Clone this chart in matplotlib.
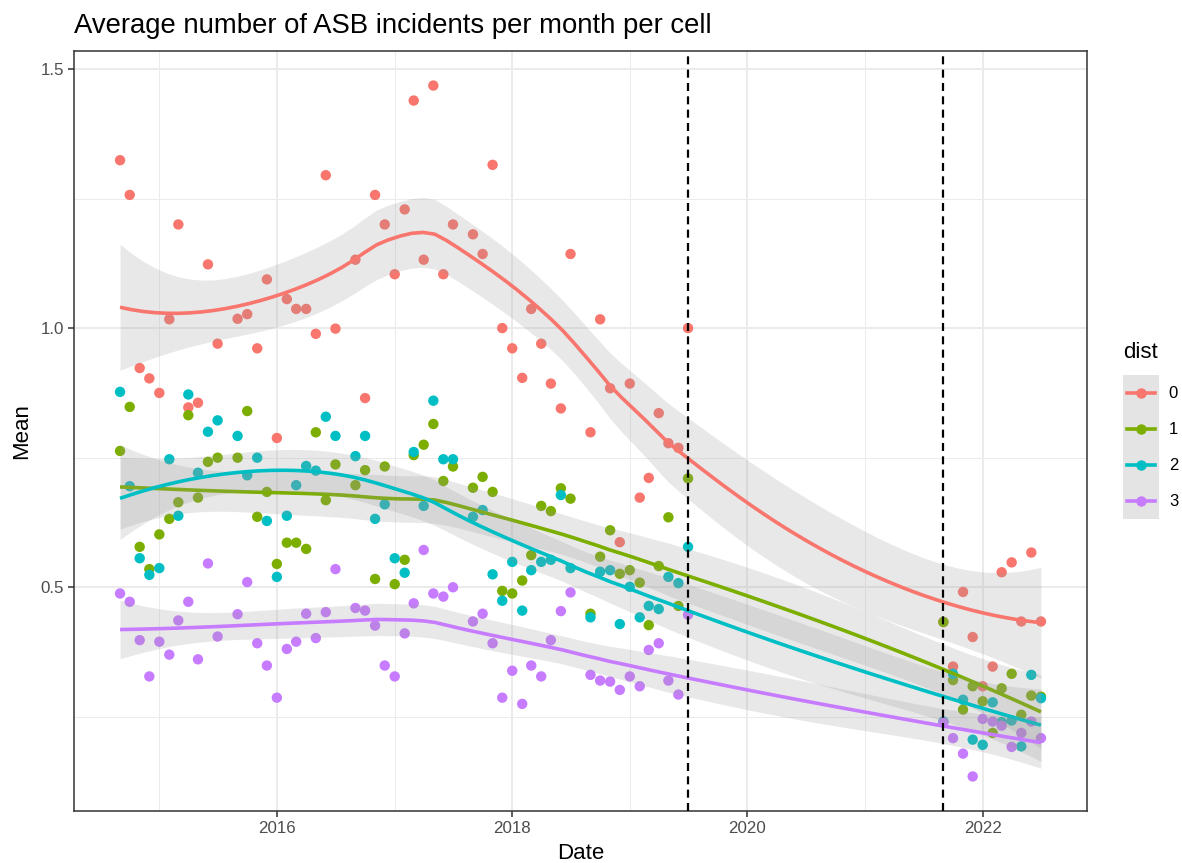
import numpy as np
import pandas as pd
import matplotlib
matplotlib.use('Agg')
import matplotlib.pyplot as plt
import matplotlib.dates as mdates
from matplotlib.lines import Line2D
from matplotlib.patches import Rectangle
from matplotlib.legend_handler import HandlerBase

plt.rcParams['font.family'] = ['Liberation Sans', 'DejaVu Sans']

# monthly dates (no August records), then the 2021-22 block after the gap
pre = pd.date_range('2014-09-01', '2019-07-01', freq='MS')
pre = pre[pre.month != 8]
post = pd.date_range('2021-09-01', '2022-07-01', freq='MS')
dates = pre.append(post)

dist_levels = ['0', '1', '2', '3']
colors = ['#F8766D', '#7CAE00', '#00BFC4', '#C77CFF']

mean_d0 = [1.324, 1.257, 0.923, 0.903, 0.875, 1.017, 1.200, 0.847, 0.856, 1.123, 0.970,
           1.018, 1.027, 0.961, 1.094, 0.788, 1.056, 1.037, 1.037, 0.989, 1.295, 0.999,
           1.132, 0.865, 1.257, 1.200, 1.104, 1.229, 1.439, 1.132, 1.468, 1.104, 1.200,
           1.181, 1.143, 1.315, 1.000, 0.961, 0.904, 1.037, 0.970, 0.893, 0.845, 1.143,
           0.799, 1.017, 0.884, 0.587, 0.893, 0.673, 0.711, 0.836, 0.778, 0.769, 1.000,
           0.433, 0.347, 0.491, 0.404, 0.309, 0.347, 0.529, 0.548, 0.434, 0.567, 0.434]
mean_d1 = [0.763, 0.848, 0.578, 0.535, 0.602, 0.632, 0.664, 0.832, 0.673, 0.742, 0.750,
           0.750, 0.840, 0.636, 0.684, 0.545, 0.586, 0.586, 0.574, 0.799, 0.668, 0.737,
           0.697, 0.726, 0.516, 0.733, 0.506, 0.553, 0.755, 0.775, 0.815, 0.705, 0.733,
           0.692, 0.713, 0.684, 0.493, 0.488, 0.513, 0.562, 0.657, 0.647, 0.691, 0.671,
           0.449, 0.559, 0.610, 0.526, 0.533, 0.509, 0.427, 0.541, 0.635, 0.464, 0.710,
           0.433, 0.321, 0.264, 0.309, 0.280, 0.219, 0.305, 0.333, 0.254, 0.291, 0.289]
mean_d2 = [0.877, 0.695, 0.556, 0.524, 0.537, 0.747, 0.638, 0.872, 0.721, 0.800, 0.822,
           0.792, 0.716, 0.750, 0.628, 0.520, 0.638, 0.697, 0.734, 0.725, 0.829, 0.792,
           0.753, 0.792, 0.632, 0.660, 0.556, 0.528, 0.761, 0.657, 0.860, 0.747, 0.747,
           0.636, 0.649, 0.525, 0.474, 0.549, 0.455, 0.533, 0.549, 0.553, 0.678, 0.537,
           0.442, 0.530, 0.533, 0.429, 0.501, 0.442, 0.464, 0.458, 0.520, 0.508, 0.578,
           0.241, 0.333, 0.283, 0.206, 0.196, 0.278, 0.240, 0.243, 0.193, 0.331, 0.286]
mean_d3 = [0.488, 0.472, 0.398, 0.328, 0.395, 0.370, 0.436, 0.472, 0.361, 0.546, 0.405,
           0.448, 0.510, 0.392, 0.349, 0.287, 0.381, 0.395, 0.449, 0.402, 0.452, 0.535,
           0.460, 0.455, 0.426, 0.349, 0.328, 0.411, 0.469, 0.572, 0.488, 0.482, 0.500,
           0.434, 0.449, 0.392, 0.287, 0.339, 0.275, 0.349, 0.328, 0.398, 0.454, 0.490,
           0.331, 0.320, 0.318, 0.302, 0.328, 0.309, 0.379, 0.392, 0.320, 0.293, 0.447,
           0.239, 0.209, 0.179, 0.135, 0.246, 0.241, 0.233, 0.192, 0.219, 0.241, 0.209]
series = [mean_d0, mean_d1, mean_d2, mean_d3]


def t975(df):
    # Cornish-Fisher approximation to the 97.5% t quantile
    z = 1.959964
    return z + (z**3 + z) / (4 * df) + (5 * z**5 + 16 * z**3 + 3 * z) / (96 * df**2)


def loess(x, y, xs, span=0.75):
    """Local quadratic fit with tricube weights, plus 95% band."""
    n = len(x)
    q = int(np.floor(n * span))

    def row(x0):
        d = np.abs(x - x0)
        h = np.sort(d)[q - 1]
        w = np.clip(1 - (d / h) ** 3, 0, None) ** 3
        X = np.column_stack([np.ones(n), x - x0, (x - x0) ** 2])
        W = X.T * w
        return np.linalg.solve(W @ X, W)[0]

    L = np.array([row(v) for v in x])
    res = y - L @ y
    M = (np.eye(n) - L).T @ (np.eye(n) - L)
    d1, d2 = np.trace(M), np.trace(M @ M)
    s = np.sqrt(np.sum(res ** 2) / d1)
    Ls = np.array([row(v) for v in xs])
    fit = Ls @ y
    se = s * np.sqrt(np.sum(Ls ** 2, axis=1))
    t = t975(d1 ** 2 / d2)
    return fit, fit - t * se, fit + t * se


class SmoothKey(HandlerBase):
    # grey ribbon square with the coloured line and point centred on it
    def create_artists(self, legend, orig_handle, xdescent, ydescent,
                       width, height, fontsize, trans):
        rect = Rectangle((-xdescent, -ydescent), width, height,
                         facecolor='#E4E4E4', edgecolor='none', transform=trans)
        yc = -ydescent + height / 2
        x0 = -xdescent
        line = Line2D([x0 + 0.12 * width, x0 + 0.5 * width, x0 + 0.88 * width], [yc] * 3,
                      color=orig_handle.get_color(), lw=2.6, marker='o', markevery=[1],
                      markersize=7.5, markeredgewidth=0, transform=trans)
        return [rect, line]


xd = mdates.date2num(dates)
xy = (xd - xd.min()) / 365.25
grid = np.linspace(xy.min(), xy.max(), 80)
grid_d = xd.min() + grid * 365.25

fig = plt.figure(figsize=(11.82, 8.63), dpi=100)
ax = fig.add_axes([74 / 1182, 1 - 811 / 863, (1087 - 74) / 1182, (811 - 51) / 863])

for vals, col in zip(series, colors):
    ax.scatter(xd, vals, s=56, color=col, edgecolors='none', zorder=3)

lows, highs = [], []
for vals, col in zip(series, colors):
    fit, lo, hi = loess(xy, np.array(vals), grid)
    lows.append(lo.min()); highs.append(hi.max())
    ax.fill_between(grid_d, lo, hi, color='#999999', alpha=0.22, lw=0, zorder=4)
    ax.plot(grid_d, fit, color=col, lw=2.6, zorder=4, solid_capstyle='butt')

for d in [pre[-1], post[0]]:
    ax.axvline(mdates.date2num(d), color='black', lw=1.6,
               linestyle=(0, (3.6, 2.4)), zorder=5)

# ggplot-style 5% expansion
allv = np.concatenate([np.array(s) for s in series])
ylo = min(allv.min(), min(lows)); yhi = max(allv.max(), max(highs))
ax.set_ylim(ylo - 0.05 * (yhi - ylo), yhi + 0.05 * (yhi - ylo))
xr = xd.max() - xd.min()
ax.set_xlim(xd.min() - 0.05 * xr, xd.max() + 0.05 * xr)

ax.set_yticks([0.5, 1.0, 1.5])
ax.set_yticklabels(['0.5', '1.0', '1.5'])
ax.set_yticks([0.25, 0.75, 1.25], minor=True)
years = [2016, 2018, 2020, 2022]
ax.set_xticks([mdates.date2num(pd.Timestamp(f'{y}-01-01')) for y in years])
ax.set_xticklabels([str(y) for y in years])
ax.set_xticks([mdates.date2num(pd.Timestamp(f'{y}-01-01')) for y in [2015, 2017, 2019, 2021]],
              minor=True)

ax.grid(which='major', color='#EBEBEB', lw=1.4, zorder=0)
ax.grid(which='minor', color='#EBEBEB', lw=0.7, zorder=0)
ax.set_axisbelow(True)
ax.tick_params(which='major', length=4, width=1.1, color='#333333',
               labelsize=12.2, labelcolor='#4D4D4D', pad=3)
ax.tick_params(which='minor', length=0)
for sp in ax.spines.values():
    sp.set_color('#333333')
    sp.set_linewidth(1.1)

ax.set_xlabel('Date', fontsize=16, labelpad=5)
ax.set_ylabel('Mean', fontsize=16, labelpad=6)
fig.text(74 / 1182, 1 - 26 / 863, 'Average number of ASB incidents per month per cell',
         fontsize=19.85, ha='left', va='center')

handles = [Line2D([], [], color=c) for c in colors]
leg = fig.legend(handles, dist_levels, loc='center left',
                 bbox_to_anchor=(1123 / 1182, 1 - 447 / 863), frameon=False,
                 handler_map={Line2D: SmoothKey()},
                 fontsize=12, handlelength=2.15, handleheight=2.95,
                 labelspacing=0, handletextpad=0.6, borderpad=0, borderaxespad=0)
fig.text(1123 / 1182, 1 - 352 / 863, 'dist', fontsize=16, ha='left', va='center')

fig.savefig('out.png', dpi=100)
